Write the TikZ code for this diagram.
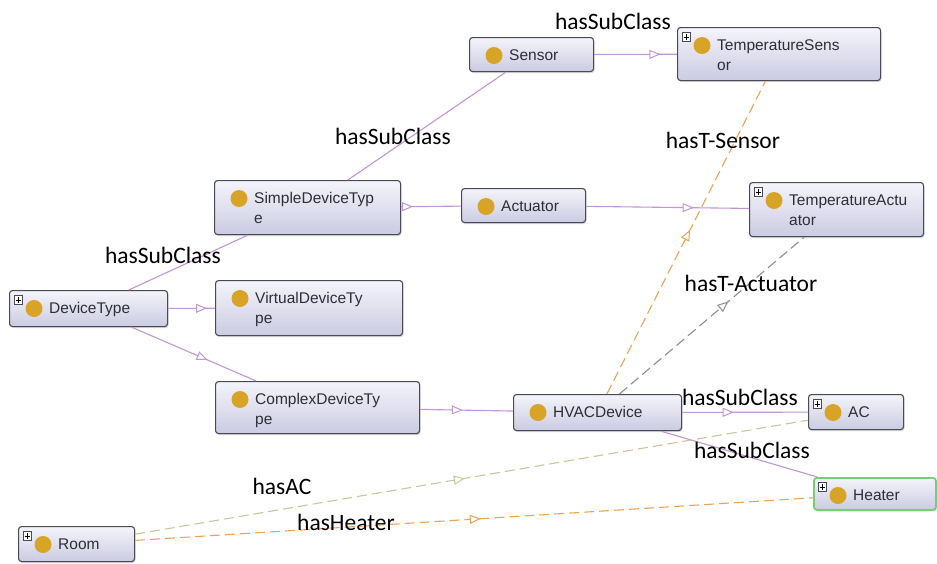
\documentclass[tikz,border=0pt]{standalone}
\usepackage{fontspec}
\setmainfont{Liberation Sans}
\newfontfamily\labfont{Carlito}
\usetikzlibrary{arrows.meta,decorations.markings,shadows}
\definecolor{boxborder}{HTML}{4A4A55}
\definecolor{boxtop}{HTML}{F4F4FB}
\definecolor{boxbot}{HTML}{CBCBE2}
\definecolor{dotc}{HTML}{D8A428}
\definecolor{textc}{HTML}{2E2E38}
\definecolor{subc}{HTML}{C295D4}
\definecolor{orc}{HTML}{EBA457}
\definecolor{grc}{HTML}{8E8E8E}
\definecolor{khc}{HTML}{CBC69A}
\definecolor{heatc}{HTML}{78CC78}
\tikzset{
  clsbox/.style={draw=boxborder, line width=1.1pt, rounded corners=3pt,
    top color=boxtop, bottom color=boxbot, inner sep=0pt,
    drop shadow={shadow xshift=1pt, shadow yshift=-1.5pt, opacity=0.3}},
  clstext/.style={font=\fontsize{15.5}{20}\selectfont, text=textc,
    text width=175pt, align=left, inner sep=0pt},
  plusbox/.style={draw=boxborder, line width=0.6pt, fill=white, minimum size=8.5pt, inner sep=0pt},
  pluss/.style={line width=0.8pt, draw=black},
  lab/.style={font=\labfont\fontsize{23.5}{28}\selectfont, text=black, inner sep=0pt},
  conn/.style={line width=1.1pt},
  subl/.style={conn, draw=subc},
  orl/.style={conn, draw=orc, dash pattern=on 10pt off 5pt},
  grl/.style={conn, draw=grc, dash pattern=on 10pt off 5pt},
  khl/.style={conn, draw=khc, dash pattern=on 10pt off 5pt},
  tipat/.style={decoration={markings, mark=at position #1 with
    {\arrow{Triangle[fill=white, length=11pt, width=9pt, line width=1pt]}}},
    postaction=decorate}
}
\newcommand\mkcls[7]{%
  \node[clsbox, minimum width=#4pt, minimum height=#5pt, anchor=north west, #7] (#1) at (#2,#3) {};
  \fill[dotc] ([xshift=25pt,yshift=-18.5pt]#1.north west) circle (8.5pt);
  \node[clstext, anchor=base west] (#1-t) at ([xshift=40pt,yshift=-23.5pt]#1.north west) {#6};
}
\newcommand\mkplus[1]{%
  \node[plusbox] (#1-p) at ([xshift=9.5pt,yshift=-10pt]#1.north west) {};
  \draw[pluss] ([yshift=-1.6pt]#1-p.north) -- ([yshift=1.6pt]#1-p.south);
  \draw[pluss] ([xshift=1.6pt]#1-p.west) -- ([xshift=-1.6pt]#1-p.east);
}
\begin{document}
\begin{tikzpicture}[x=1pt,y=-1pt]
\fill[white] (0,0) rectangle (937,563);
\useasboundingbox (0,0) rectangle (937,563);
% classes
\mkcls{sensor}{469}{37}{124}{34}{Sensor}{}
\mkcls{tsens}{677}{27}{203}{53}{TemperatureSens\\or}{}
\mkcls{sdt}{214}{180}{186}{54}{SimpleDeviceTyp\\e}{}
\mkcls{act}{461}{188}{124}{34}{Actuator}{}
\mkcls{tact}{749}{182}{174}{54}{TemperatureActu\\ator}{}
\mkcls{dt}{9}{290}{158}{36}{DeviceType}{}
\mkcls{vdt}{215}{280}{187}{55}{VirtualDeviceTy\\pe}{}
\mkcls{cdt}{215}{381}{204}{52}{ComplexDeviceTy\\pe}{}
\mkcls{hvac}{513}{394}{168}{36}{HVACDevice}{}
\mkcls{ac}{808}{394}{95}{35}{AC}{}
\mkcls{heater}{813}{477}{122}{32}{Heater}{draw=heatc, line width=1.8pt}
\mkcls{room}{18}{526}{116}{35}{Room}{}
\mkplus{tsens}
\mkplus{tact}
\mkplus{dt}
\mkplus{ac}
\mkplus{heater}
\mkplus{room}
% subclass connectors
\draw[subl] (dt) -- (sdt);
\draw[subl, tipat=0.83] (dt) -- (vdt);
\draw[subl, tipat=0.61] (dt) -- (cdt);
\draw[subl] (sdt) -- (sensor);
\draw[subl, tipat=0.2] (sdt) -- (act);
\draw[subl, tipat=0.8] (sensor) -- (tsens);
\draw[subl, tipat=0.66] (act) -- (tact);
\draw[subl, tipat=0.46] (cdt) -- (hvac);
\draw[subl, tipat=0.41] (hvac) -- (ac);
\draw[subl] (hvac) -- (heater);
% property connectors
\draw[orl, tipat=0.525] (hvac) -- (tsens);
\draw[grl, tipat=0.59] (hvac) -- (tact);
\draw[khl, tipat=0.49] (room) -- (ac);
\draw[orl, tipat=0.51] (room) -- (heater);
% labels
\node[lab] (l1) at (613,21) {hasSubClass};
\node[lab] (l2) at (393,136) {hasSubClass};
\node[lab] (l3) at (163,255) {hasSubClass};
\node[lab] (l4) at (723,140) {hasT-Sensor};
\node[lab] (l5) at (751,283) {hasT-Actuator};
\node[lab] (l6) at (740,397) {hasSubClass};
\node[lab] (l7) at (752,450) {hasSubClass};
\node[lab] (l8) at (282,486) {hasAC};
\node[lab] (l9) at (346,522) {hasHeater};
\end{tikzpicture}
\end{document}
